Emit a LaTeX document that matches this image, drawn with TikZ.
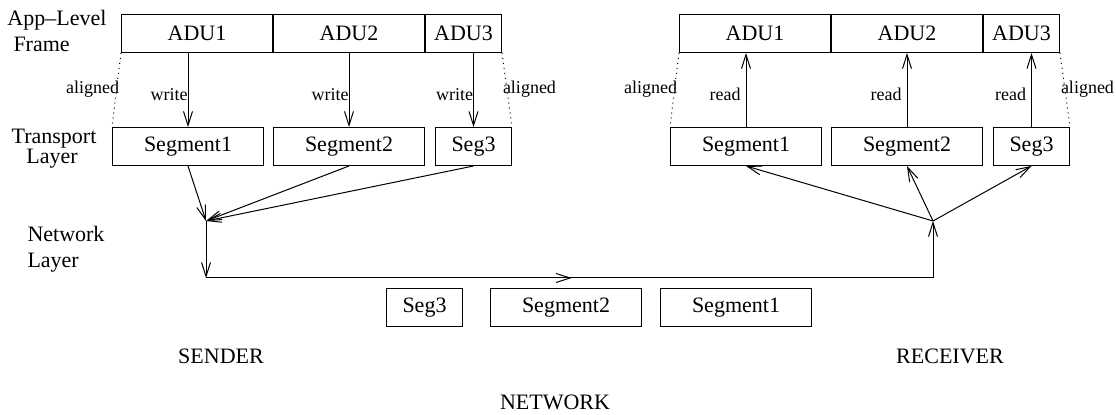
\documentclass[tikz,border=0pt]{standalone}
\usepackage{fontspec}
\setmainfont{Liberation Serif}
\usetikzlibrary{arrows.meta,positioning,decorations.markings}

\tikzset{
  box/.style={draw, minimum height=19pt, inner sep=0pt, font=\fontsize{11}{13}\selectfont},
  wide/.style={box, minimum width=75.5pt},
  narrow/.style={box, minimum width=38pt},
  lbl/.style={inner sep=0pt, font=\fontsize{11}{13}\selectfont},
  small/.style={inner sep=0pt, font=\fontsize{9}{11}\selectfont},
  sarr/.style={->},
  rarr/.style={<-}
}

\begin{document}
\begin{tikzpicture}[x=0.5pt, y=-0.5pt, line width=0.5pt, >={Straight Barb[length=7pt,width=4.5pt]}]
 \useasboundingbox (0,0) rectangle (1116,415);

 \node[lbl, anchor=base west] (applvl) at (7,26) {App--Level};
 \node[lbl, anchor=base west] (frame) at (13,52) {Frame};
 \node[lbl, anchor=base] (transp) at (54,144) {Transport};
 \node[lbl, anchor=base] (tlayer) at (52,164) {Layer};
 \node[lbl, anchor=base west] (netw) at (27,242) {Network};
 \node[lbl, anchor=base west] (nlayer) at (27,268) {Layer};

 \coordinate (sj) at (206,221);
 \coordinate (rj) at (933,221);
 \coordinate (sb) at (206,278);
 \coordinate (rb) at (933,278);

 \foreach \sd/\dx/\act/\dirn/\gap in {s/0/write/sarr/0pt, r/558/read/rarr/2.5pt}
 {
   \node[wide, anchor=north west] (\sd a1) at (121+\dx,14) {ADU1};
   \node[wide, right=0pt of \sd a1] (\sd a2) {ADU2};
   \node[narrow, right=0pt of \sd a2] (\sd a3) {ADU3};
   \node[wide, anchor=north west] (\sd s1) at (112+\dx,127) {Segment1};
   \node[wide, right=4.5pt of \sd s1] (\sd s2) {Segment2};
   \node[narrow, right=5pt of \sd s2] (\sd s3) {Seg3};
   \draw[dotted] (\sd a1.south west) -- node[small, pos=0.49, anchor=east, xshift=1.5pt] {aligned} (\sd s1.north west);
   \draw[dotted] (\sd a3.south east) -- node[small, pos=0.49, anchor=west, xshift=-2.2pt] {aligned} (\sd s3.north east);
   \foreach \k in {1,2,3}
   {
     \draw[\dirn] (\sd a\k.south -| \sd s\k.north) -- node[small, pos=0.56, anchor=east, xshift=-\gap] {\act} (\sd s\k.north);
     \draw[\dirn] (\sd s\k.south) -- (\sd j);
   }
 }

 \draw[->] (sj) -- (sb);
 \draw[postaction={decorate}, decoration={markings, mark=at position 0.503 with {\arrow{>}}}] (sb) -- (rb);
 \draw[->] (rb) -- (rj);

 \node[narrow, anchor=north west] (n3) at (386,288) {Seg3};
 \node[wide, right=13.5pt of n3] (n2) {Segment2};
 \node[wide, right=9pt of n2] (n1) {Segment1};

 \node[lbl, anchor=base] (sender) at (221,364) {SENDER};
 \node[lbl, anchor=base] (receiver) at (950,364) {RECEIVER};
 \node[lbl, anchor=base] (network) at (555,410) {NETWORK};
\end{tikzpicture}
\end{document}
